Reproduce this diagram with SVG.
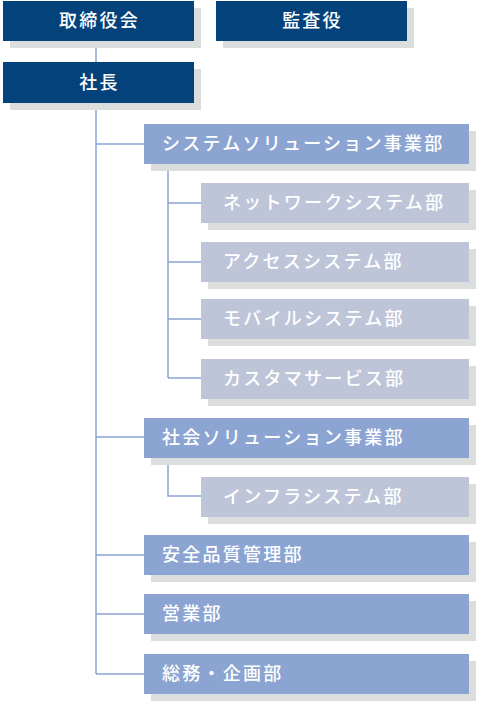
<svg xmlns="http://www.w3.org/2000/svg" width="480" height="702" viewBox="0 0 480 702">
<style>
.sh{fill:#dcdddd}
.l1{fill:#04427b}
.l2{fill:#8ba4d2}
.l3{fill:#bec5d8}
text{font-family:"Noto Sans CJK JP","Noto Sans",sans-serif;font-size:18px;fill:#ffffff;letter-spacing:2.25px;font-weight:500}
.c{text-anchor:middle}
.cn{fill:none;stroke:#8ba4d2;stroke-width:1.5}
</style>
<rect width="480" height="702" fill="#ffffff"/>
<g id="connectors">
<path class="cn" d="M96 41V674M96 144H144M96 437H144M96 555H144M96 614H144M96 674H144"/>
<path class="cn" d="M168 164V378M168 203H201M168 262H201M168 319H201M168 378H201"/>
<path class="cn" d="M168 457V496H201"/>
</g>
<g id="board"><rect class="sh" x="10" y="8" width="191" height="40"/><rect class="l1" x="3" y="1" width="191" height="40"/><text class="c" x="99.5" y="27">取締役会</text></g>
<g id="auditor"><rect class="sh" x="223" y="8" width="191" height="40"/><rect class="l1" x="216" y="1" width="191" height="40"/><text class="c" x="312.5" y="27">監査役</text></g>
<g id="president"><rect class="sh" x="10" y="69" width="191" height="41"/><rect class="l1" x="3" y="62" width="191" height="41"/><text class="c" x="99.5" y="89">社長</text></g>
<g id="system-solution"><rect class="sh" x="151" y="131" width="325" height="40"/><rect class="l2" x="144" y="124" width="325" height="40"/><text x="162" y="150">システムソリューション事業部</text></g>
<g id="network"><rect class="sh" x="208" y="190" width="268" height="40"/><rect class="l3" x="201" y="183" width="268" height="40"/><text x="223" y="209">ネットワークシステム部</text></g>
<g id="access"><rect class="sh" x="208" y="249" width="268" height="40"/><rect class="l3" x="201" y="242" width="268" height="40"/><text x="223" y="268">アクセスシステム部</text></g>
<g id="mobile"><rect class="sh" x="208" y="306" width="268" height="40"/><rect class="l3" x="201" y="299" width="268" height="40"/><text x="223" y="325">モバイルシステム部</text></g>
<g id="customer"><rect class="sh" x="208" y="366" width="268" height="40"/><rect class="l3" x="201" y="359" width="268" height="40"/><text x="223" y="385">カスタマサービス部</text></g>
<g id="social-solution"><rect class="sh" x="151" y="425" width="325" height="40"/><rect class="l2" x="144" y="418" width="325" height="40"/><text x="162" y="444">社会ソリューション事業部</text></g>
<g id="infra"><rect class="sh" x="208" y="484" width="268" height="40"/><rect class="l3" x="201" y="477" width="268" height="40"/><text x="223" y="503">インフラシステム部</text></g>
<g id="quality"><rect class="sh" x="151" y="542" width="325" height="40"/><rect class="l2" x="144" y="535" width="325" height="40"/><text x="162" y="561">安全品質管理部</text></g>
<g id="sales"><rect class="sh" x="151" y="601" width="325" height="40"/><rect class="l2" x="144" y="594" width="325" height="40"/><text x="162" y="620">営業部</text></g>
<g id="general"><rect class="sh" x="151" y="661" width="325" height="40"/><rect class="l2" x="144" y="654" width="325" height="40"/><text x="162" y="680">総務・企画部</text></g>
</svg>
